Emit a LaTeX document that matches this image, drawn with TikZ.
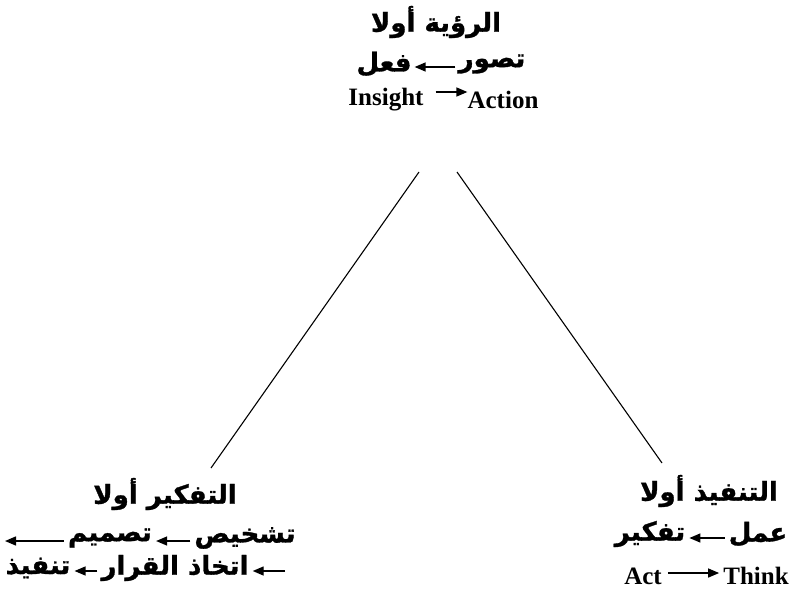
\documentclass[tikz,border=0pt]{standalone}
\usepackage{fontspec}
\setmainfont{Liberation Serif}
\newfontfamily\arabicfont[Script=Arabic,BoldFeatures={FakeBold=1.2}]{DejaVu Sans}
\TeXXeTstate=1
\usetikzlibrary{arrows.meta,calc}
\tikzset{
  ar/.style={font=\arabicfont\bfseries\fontsize{26}{30}\selectfont, inner sep=0pt},
  en/.style={font=\bfseries\fontsize{25}{29}\selectfont, inner sep=0pt},
  arr/.style={-{Triangle[length=11pt,width=9pt]}, line width=1.4pt},
  side/.style={line width=1.1pt},
}
\begin{document}
\begin{tikzpicture}[x=1pt,y=-1pt]
\useasboundingbox (0,0) rectangle (797,605);
% top
\node[ar] (t1) at (436,22) {\beginR الرؤية أولا\endR};
\node[ar] (t2r) at (492,64) {\beginR تصور\endR};
\node[ar] (t2l) at (384,64) {\beginR فعل\endR};
\draw[arr] ($(t2r.west)+(-3,3)$) -- ($(t2l.east)+(3,3)$);
\node[en] (ins) at (386,100) {Insight};
\node[en] (actn) at (503,100) {Action};
\draw[arr] ($(ins.east)+(12,-8)$) -- ($(actn.west)+(0,-8)$);
% sides
\coordinate (a1) at (419,172);
\coordinate (a2) at (457,172);
\coordinate (b1) at (211,468);
\coordinate (b2) at (662,463);
\draw[side] (a1) -- (b1);
\draw[side] (a2) -- (b2);
% bottom left
\node[ar] (lt) at (165,494) {\beginR التفكير أولا\endR};
\node[ar] (lA) at (245,538) {\beginR تشخيص\endR};
\node[ar] (lB) at (110,538) {\beginR تصميم\endR};
\coordinate (lC) at (5,541);
\draw[arr] ($(lA.west)+(-4,3)$) -- ($(lB.east)+(4,3)$);
\draw[arr] ($(lB.west)+(-4,3)$) -- (lC);
\coordinate (lF) at (285,571);
\node[ar] (lD) at (175,568) {\beginR اتخاذ القرار\endR};
\node[ar] (lE) at (38,568) {\beginR تنفيذ\endR};
\draw[arr] (lF) -- ($(lD.east)+(4,3)$);
\draw[arr] ($(lD.west)+(-4,3)$) -- ($(lE.east)+(4,3)$);
% bottom right
\node[ar] (rt) at (709,491) {\beginR التنفيذ أولا\endR};
\node[ar] (rA) at (758,534) {\beginR عمل\endR};
\node[ar] (rB) at (650,534) {\beginR تفكير\endR};
\draw[arr] ($(rA.west)+(-4,4)$) -- ($(rB.east)+(4,4)$);
\node[en] (ac) at (643,576) {Act};
\node[en] (th) at (756,576) {Think};
\draw[arr] ($(ac.east)+(6,-3)$) -- ($(th.west)+(-4,-3)$);
\end{tikzpicture}
\end{document}
